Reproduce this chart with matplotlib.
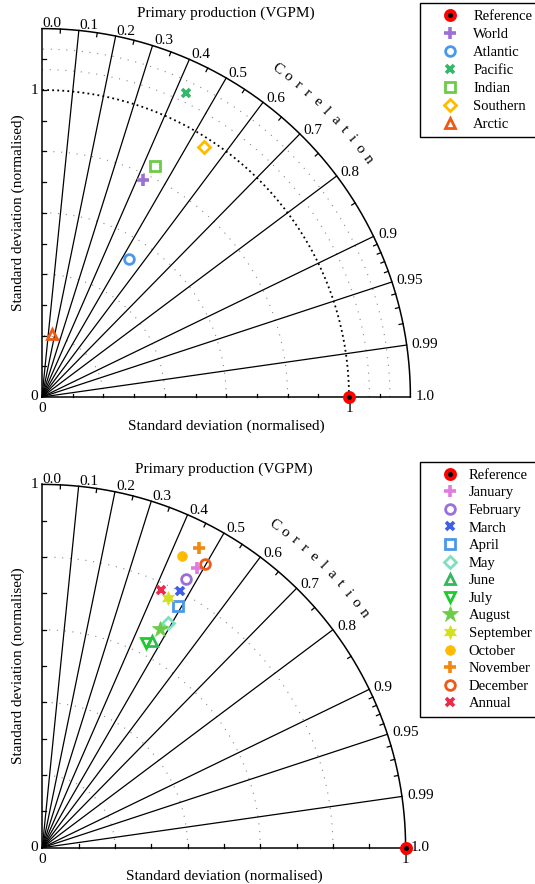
import numpy as np
import matplotlib
matplotlib.use("Agg")
import matplotlib.pyplot as plt

plt.rcParams['font.family'] = ['Liberation Serif', 'DejaVu Serif']

W, H, DPI = 535, 884, 100

# Reference point (observations): normalised std = 1, correlation = 1
ref_std = 1.0
ref_corr = 1.0

# Ocean basins
basin_names = ["World", "Atlantic", "Pacific", "Indian", "Southern", "Arctic"]
basin_std = [0.779, 0.533, 1.095, 0.837, 0.970, 0.208]
basin_corr = [0.421, 0.533, 0.428, 0.441, 0.545, 0.164]

# Monthly climatology and annual mean
month_names = ["January", "February", "March", "April", "May", "June", "July",
               "August", "September", "October", "November", "December", "Annual"]
month_std = [0.879, 0.838, 0.803, 0.763, 0.710, 0.644, 0.631,
             0.684, 0.770, 0.891, 0.931, 0.900, 0.780]
month_corr = [0.483, 0.473, 0.472, 0.490, 0.489, 0.470, 0.452,
              0.473, 0.450, 0.431, 0.464, 0.497, 0.418]

corr_major = [0.0, 0.1, 0.2, 0.3, 0.4, 0.5, 0.6, 0.7, 0.8, 0.9, 0.95, 0.99, 1.0]
corr_major_labels = ["0.0", "0.1", "0.2", "0.3", "0.4", "0.5", "0.6", "0.7",
                     "0.8", "0.9", "0.95", "0.99", "1.0"]
corr_minor = [0.05, 0.15, 0.25, 0.35, 0.45, 0.55, 0.65, 0.75, 0.85,
              0.91, 0.92, 0.93, 0.94, 0.96, 0.97, 0.98]

basin_style = [
    dict(marker="+", color="#9b6fd6", ms=8, mew=2.6, mfc="none"),
    dict(marker="o", color="#4a98ec", ms=7, mew=2.0, mfc="none"),
    dict(marker="x", color="#35b86a", ms=5.5, mew=2.6, mfc="none"),
    dict(marker="s", color="#6ccb48", ms=6.5, mew=2.0, mfc="none"),
    dict(marker="D", color="#ffbb00", ms=6.5, mew=2.0, mfc="none"),
    dict(marker="^", color="#ee5a14", ms=7.5, mew=2.0, mfc="none"),
]
month_style = [
    dict(marker="+", color="#e07ce0", ms=8, mew=2.6, mfc="none"),
    dict(marker="o", color="#9a6fdc", ms=7, mew=2.0, mfc="none"),
    dict(marker="x", color="#3f5fe8", ms=5.5, mew=2.6, mfc="none"),
    dict(marker="s", color="#4a98ec", ms=6.5, mew=2.0, mfc="none"),
    dict(marker="D", color="#7fe0c0", ms=6.5, mew=2.0, mfc="none"),
    dict(marker="^", color="#35b85a", ms=7.5, mew=2.0, mfc="none"),
    dict(marker="v", color="#1ccc2a", ms=7.5, mew=2.0, mfc="none"),
    dict(marker="*", color="#6ccb48", ms=12, mew=0.5, mfc="#6ccb48"),
    dict(marker=(6, 1, 0), color="#d4e01a", ms=10, mew=0.5, mfc="#d4e01a"),
    dict(marker="o", color="#ffbb00", ms=7, mew=0.5, mfc="#ffbb00"),
    dict(marker="+", color="#f08a10", ms=8, mew=2.6, mfc="none"),
    dict(marker="o", color="#ee5a14", ms=7, mew=2.0, mfc="none"),
    dict(marker="x", color="#ee2a4a", ms=5.5, mew=2.6, mfc="none"),
]
ref_style = dict(marker="o", color="#ff0000", ms=6.5, mew=2.8, mfc="black")

FS = 11

fig = plt.figure(figsize=(W / DPI, H / DPI), dpi=DPI)


def taylor(origin, scale, rmax, grey_rings, black_rings, names, stds, corrs,
           styles, legend_top, legend_spacing, text_pad):
    ox, oy = origin
    lo, hi = -0.15, rmax + 0.15
    ax = fig.add_axes([(ox + lo * scale) / W, (H - (oy - lo * scale)) / H,
                       (hi - lo) * scale / W, (hi - lo) * scale / H])
    ax.set_xlim(lo, hi)
    ax.set_ylim(lo, hi)
    ax.axis("off")
    p = 1.0 / scale  # one pixel in data units

    # standard deviation rings
    t = np.linspace(0, np.pi / 2, 400)
    for r in grey_rings:
        ax.plot(r * np.cos(t), r * np.sin(t), color="#8a8a8a", lw=0.8,
                ls=(0, (1, 6)), clip_on=False)
    for r in black_rings:
        ax.plot(r * np.cos(t), r * np.sin(t), color="black", lw=1.3,
                ls=(0, (1, 1.8)), clip_on=False)

    # correlation rays
    for c in corr_major[1:-1]:
        th = np.arccos(c)
        ax.plot([0, rmax * np.cos(th)], [0, rmax * np.sin(th)], color="black",
                lw=0.9, clip_on=False)

    # frame: outer arc and the two axes
    ax.plot(rmax * np.cos(t), rmax * np.sin(t), color="black", lw=1.1,
            clip_on=False)
    ax.plot([0, rmax], [0, 0], color="black", lw=1.1, clip_on=False)
    ax.plot([0, 0], [0, rmax], color="black", lw=1.1, clip_on=False)

    # minor correlation ticks on the arc
    for c in corr_minor:
        th = np.arccos(c)
        ax.plot([(rmax - 4 * p) * np.cos(th), rmax * np.cos(th)],
                [(rmax - 4 * p) * np.sin(th), rmax * np.sin(th)],
                color="black", lw=0.9, clip_on=False)

    # ticks on the std axes
    for v in np.arange(1, int(round(rmax * 10))) / 10.0:
        ax.plot([v, v], [0, 3.5 * p], color="black", lw=0.9, clip_on=False)
        ax.plot([0, 3.5 * p], [v, v], color="black", lw=0.9, clip_on=False)

    # correlation labels
    for c, lab in zip(corr_major, corr_major_labels):
        th = np.arccos(c)
        r = rmax + 5 * p
        ax.text(r * np.cos(th), r * np.sin(th), lab, ha="left", va="center",
                fontsize=FS, clip_on=False)

    # curved "Correlation" caption
    rr = 1.095 * rmax
    for ch, ang in zip("Correlation", np.linspace(54.3, 36.2, 11)):
        a = np.radians(ang)
        ax.text(rr * np.cos(a), rr * np.sin(a), ch, rotation=ang - 90,
                rotation_mode="anchor", ha="center", va="center",
                fontsize=FS, clip_on=False)

    # std tick labels
    ax.text(-4 * p, 0, "0", ha="right", va="center", fontsize=FS)
    ax.text(-4 * p, 1, "1", ha="right", va="center", fontsize=FS)
    ax.text(0, -5 * p, "0", ha="center", va="top", fontsize=FS)
    ax.text(1, -5 * p, "1", ha="center", va="top", fontsize=FS)

    # axis titles
    ax.text(rmax / 2, -29 * p, "Standard deviation (normalised)", ha="center",
            va="center", fontsize=FS)
    ax.text(-24 * p, rmax / 2, "Standard deviation (normalised)", ha="center",
            va="center", rotation=90, fontsize=FS)
    ax.text(rmax / 2, rmax + 15 * p, "Primary production (VGPM)", ha="center",
            va="center", fontsize=FS)

    # points
    handles = []
    th = np.arccos(ref_corr)
    h, = ax.plot(ref_std * np.cos(th), ref_std * np.sin(th), ls="none",
                 clip_on=False, zorder=5, label="Reference", **ref_style)
    handles.append(h)
    for name, s, c, st in zip(names, stds, corrs, styles):
        th = np.arccos(c)
        h, = ax.plot(s * np.cos(th), s * np.sin(th), ls="none", clip_on=False,
                     zorder=5, label=name, **st)
        handles.append(h)

    leg = fig.legend(handles=handles, loc="upper left",
                     bbox_to_anchor=(420 / W, 1 - legend_top / H),
                     bbox_transform=fig.transFigure, borderaxespad=0,
                     fontsize=10.5, frameon=True, fancybox=False,
                     edgecolor="black", framealpha=1, borderpad=0.45,
                     handlelength=3.2, handletextpad=text_pad,
                     labelspacing=legend_spacing, numpoints=1)
    leg.get_frame().set_linewidth(1.0)
    return ax


taylor((42, 397), 307, 1.2, [0.2, 0.4, 0.6, 0.8, 1.0667, 1.1333], [1.0],
       basin_names, basin_std, basin_corr, basin_style, 3, 0.33, 0.0)
taylor((42.3, 847.7), 363.3, 1.0, [0.2, 0.4, 0.6, 0.8], [],
       month_names, month_std, month_corr, month_style, 462, 0.30, -0.3)

fig.savefig("out.png", dpi=DPI)
